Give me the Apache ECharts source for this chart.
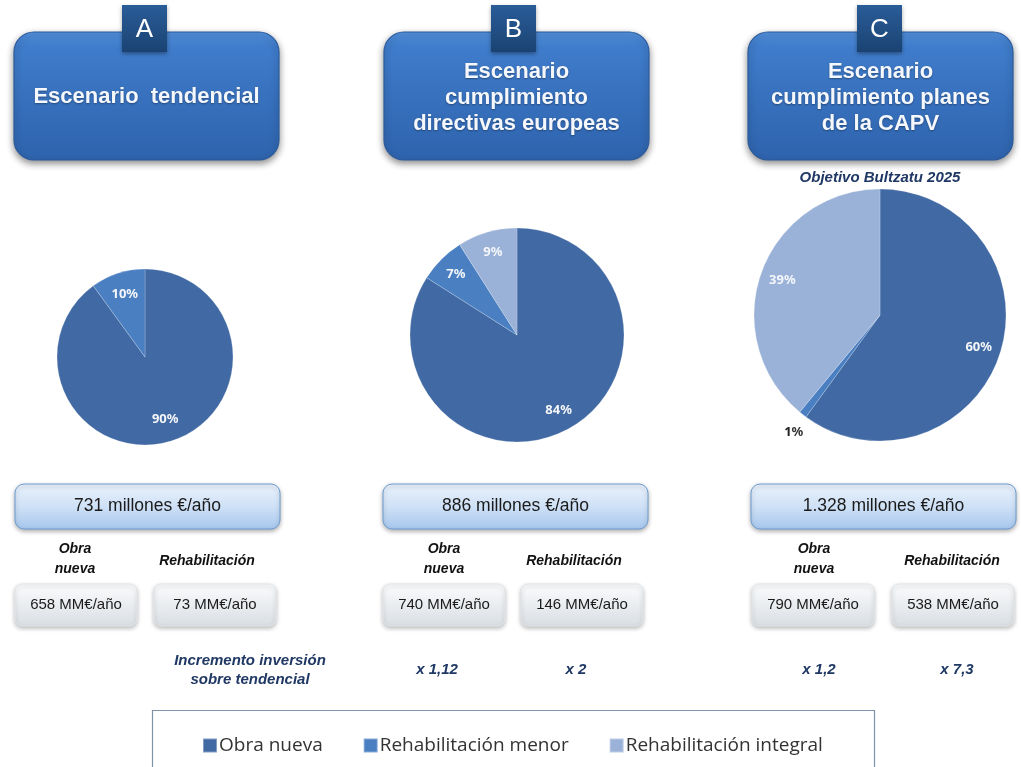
<!DOCTYPE html>
<html>
<head>
<meta charset="utf-8">
<script src="https://cdn.jsdelivr.net/npm/echarts@6/dist/echarts.min.js"></script>
<style>html,body{margin:0;padding:0;background:#fff;}#main{width:1021px;height:767px;}</style>
</head>
<body>
<div id="main"></div>
<script>
// ---- data ----
const categories = ['Obra nueva', 'Rehabilitación menor', 'Rehabilitación integral'];
const shareA = [90, 10, null];
const shareB = [84, 7, 9];
const shareC = [60, 1, 39];
const scenarioLetters = ['A', 'B', 'C'];
const scenarioTitles = ['Escenario  tendencial', 'Escenario\ncumplimiento\ndirectivas europeas', 'Escenario\ncumplimiento planes\nde la CAPV'];
const totals = ['731 millones €/año', '886 millones €/año', '1.328 millones €/año'];
const obraNueva = [658, 740, 790];
const rehabilitacion = [73, 146, 538];
const increments = ['x 1,12', 'x 2', 'x 1,2', 'x 7,3'];
const subTitleC = 'Objetivo Bultzatu 2025';

// ---- styles ----
const colors = ['#4169a3', '#4a7fc2', '#9bb2d8'];
const G = echarts.graphic;

function pieData(arr) {
  const out = [];
  arr.forEach((v, i) => { if (v !== null) out.push({ name: categories[i], value: v, itemStyle: { color: colors[i] } }); });
  return out;
}

const pies = [
  { data: shareA, center: [145, 357], r: 88, r0: 0.42 },
  { data: shareB, center: [517, 335], r: 107, r0: 0.56 },
  { data: shareC, center: [880, 315], r: 126, r0: 0.6 }
];

const series = [];
pies.forEach(p => {
  series.push({
    type: 'pie', center: p.center, radius: [0, p.r], startAngle: 90, clockwise: true,
    data: pieData(p.data), label: { show: false }, labelLine: { show: false },
    itemStyle: { borderColor: 'rgba(255,255,255,0.35)', borderWidth: 0.6 },
    emphasis: { disabled: true }, silent: true, animation: false
  });
});
pies.forEach((p, si) => {
  const d = pieData(p.data).map(it => {
    const o = { name: it.name, value: it.value, itemStyle: { color: 'rgba(0,0,0,0)' } };
    if (it.value < 3) {
      o.label = {
        position: 'outside', formatter: '{b|{c}}{n|%}', distanceToLabelLine: -14,
        rich: { b: { fontFamily: 'Noto Sans', fontWeight: 'bold', fontSize: 13, color: '#222' },
                n: { fontFamily: 'Noto Sans', fontSize: 13, color: '#333' } }
      };
      o.labelLine = { show: false, length: 22, length2: 0 };
    }
    return o;
  });
  series.push({
    type: 'pie', center: p.center, radius: [p.r * p.r0, p.r], startAngle: 90, clockwise: true,
    data: d, silent: true, animation: false, emphasis: { disabled: true }, legendHoverLink: false,
    label: { show: true, position: 'inside', formatter: '{c}%', color: '#f4f6fa',
             fontFamily: 'Noto Sans', fontWeight: 'bold', fontSize: 13 },
    labelLine: { show: false }
  });
});

// ---- graphic elements ----
const els = [];
const topBoxX = [14, 384, 748];
const tabX = [122, 491, 857];
const titleCY = [97, 98, 98];
scenarioTitles.forEach((t, i) => {
  els.push({
    type: 'rect', z: 1,
    shape: { x: topBoxX[i], y: 32, width: 265, height: 128, r: 20 },
    style: {
      fill: new G.LinearGradient(0, 0, 0, 1, [
        { offset: 0, color: '#5290dc' }, { offset: 0.12, color: '#3f7ccb' }, { offset: 1, color: '#2e63ad' }]),
      stroke: '#2b5b9c', lineWidth: 1.2,
      shadowBlur: 7, shadowOffsetY: 3, shadowColor: 'rgba(0,0,0,0.45)'
    }
  });
  els.push({
    type: 'rect', z: 2,
    shape: { x: tabX[i], y: 5, width: 45, height: 47 },
    style: {
      fill: new G.LinearGradient(0, 0, 0, 1, [
        { offset: 0, color: '#2a5c98' }, { offset: 1, color: '#1a4373' }]),
      shadowBlur: 4, shadowOffsetY: 2, shadowColor: 'rgba(0,0,0,0.35)'
    }
  });
  els.push({
    type: 'text', z: 3,
    style: { text: scenarioLetters[i], x: tabX[i] + 22.5, y: 30, align: 'center', verticalAlign: 'middle',
             textAlign: 'center', textVerticalAlign: 'middle',
             fill: '#ffffff', font: '26px "Liberation Sans", Arial, sans-serif' }
  });
  els.push({
    type: 'text', z: 3,
    style: { text: t, x: topBoxX[i] + 132.5, y: titleCY[i], align: 'center', verticalAlign: 'middle',
             textAlign: 'center', textVerticalAlign: 'middle', lineHeight: 26,
             fill: '#f4f7fb', font: 'bold 22px "Liberation Sans", Arial, sans-serif',
             textShadowColor: 'rgba(0,0,0,0.35)', textShadowBlur: 2, textShadowOffsetY: 1 }
  });
});

// Objetivo subtitle
els.push({
  type: 'text', z: 5,
  style: { text: subTitleC, x: 880, y: 178, align: 'center', verticalAlign: 'middle',
           textAlign: 'center', textVerticalAlign: 'middle',
           fill: '#1f3864', font: 'italic bold 15px "Liberation Sans", Arial, sans-serif' }
});

// totals boxes
const midX = [15, 383, 751];
totals.forEach((t, i) => {
  els.push({
    type: 'rect', z: 1,
    shape: { x: midX[i], y: 484, width: 265, height: 45, r: 9 },
    style: {
      fill: new G.LinearGradient(0, 0, 0, 1, [
        { offset: 0, color: '#e9f2fc' }, { offset: 0.5, color: '#cfe1f6' }, { offset: 1, color: '#a6c6ec' }]),
      stroke: '#6d9dd2', lineWidth: 1,
      shadowBlur: 4, shadowOffsetY: 2, shadowColor: 'rgba(0,0,0,0.3)'
    }
  });
  els.push({
    type: 'text', z: 2,
    style: { text: t, x: midX[i] + 132.5, y: 506, align: 'center', verticalAlign: 'middle',
             textAlign: 'center', textVerticalAlign: 'middle',
             fill: '#1a1a1a', font: '17.5px "Liberation Sans Narrow", "Liberation Sans", Arial, sans-serif' }
  });
});

// sub labels + small boxes
const obraLabelX = [75, 444, 814];
const rehabLabelX = [207, 574, 952];
const smallX1 = [15, 383, 752];
const smallX2 = [154, 521, 892];
for (let i = 0; i < 3; i++) {
  els.push({
    type: 'text', z: 2,
    style: { text: 'Obra\nnueva', x: obraLabelX[i], y: 559, align: 'center', verticalAlign: 'middle',
             textAlign: 'center', textVerticalAlign: 'middle', lineHeight: 20,
             fill: '#111', font: 'italic bold 14px "Liberation Sans", Arial, sans-serif' }
  });
  els.push({
    type: 'text', z: 2,
    style: { text: 'Rehabilitación', x: rehabLabelX[i], y: 561, align: 'center', verticalAlign: 'middle',
             textAlign: 'center', textVerticalAlign: 'middle',
             fill: '#111', font: 'italic bold 14px "Liberation Sans", Arial, sans-serif' }
  });
  [[smallX1[i], obraNueva[i]], [smallX2[i], rehabilitacion[i]]].forEach(([x, v]) => {
    els.push({
      type: 'rect', z: 1,
      shape: { x: x, y: 584, width: 122, height: 42, r: 7 },
      style: {
        fill: new G.LinearGradient(0, 0, 0, 1, [
          { offset: 0, color: '#fbfcfd' }, { offset: 1, color: '#d9dee3' }]),
        stroke: '#e2e6ea', lineWidth: 1,
        shadowBlur: 4, shadowOffsetY: 2, shadowColor: 'rgba(0,0,0,0.25)'
      }
    });
    els.push({
      type: 'text', z: 2,
      style: { text: v + ' MM€/año', x: x + 61, y: 605, align: 'center', verticalAlign: 'middle',
               textAlign: 'center', textVerticalAlign: 'middle',
               fill: '#1a1a1a', font: '15px "Liberation Sans Narrow", "Liberation Sans", Arial, sans-serif' }
    });
  });
}

// increments
els.push({
  type: 'text', z: 2,
  style: { text: 'Incremento inversión\nsobre tendencial', x: 250, y: 670, align: 'center', verticalAlign: 'middle',
           textAlign: 'center', textVerticalAlign: 'middle', lineHeight: 19,
           fill: '#1f3864', font: 'italic bold 15px "Liberation Sans", Arial, sans-serif' }
});
const incX = [437, 576, 819, 957];
increments.forEach((t, i) => {
  els.push({
    type: 'text', z: 2,
    style: { text: t, x: incX[i], y: 670, align: 'center', verticalAlign: 'middle',
             textAlign: 'center', textVerticalAlign: 'middle',
             fill: '#1f3864', font: 'italic bold 15px "Liberation Sans", Arial, sans-serif' }
  });
});

// legend frame
els.push({
  type: 'rect', z: 0,
  shape: { x: 152.5, y: 710.5, width: 722, height: 80 },
  style: { fill: '#ffffff', stroke: '#7f93ab', lineWidth: 1.2 }
});

const chart = echarts.init(document.getElementById('main'), null, { renderer: 'canvas' });
chart.setOption({
  backgroundColor: '#ffffff',
  animation: false,
  legend: {
    data: categories.map((c, i) => ({ name: c, itemStyle: { color: colors[i] } })),
    left: 197, top: 731, icon: 'rect', itemWidth: 14, itemHeight: 14, itemGap: 40,
    selectedMode: false, z: 10,
    textStyle: { fontFamily: '"Open Sans", sans-serif', fontSize: 19, color: '#333', padding: [0, 0, 0, -3] }
  },
  graphic: { elements: els },
  series: series
});
</script>
</body>
</html>
